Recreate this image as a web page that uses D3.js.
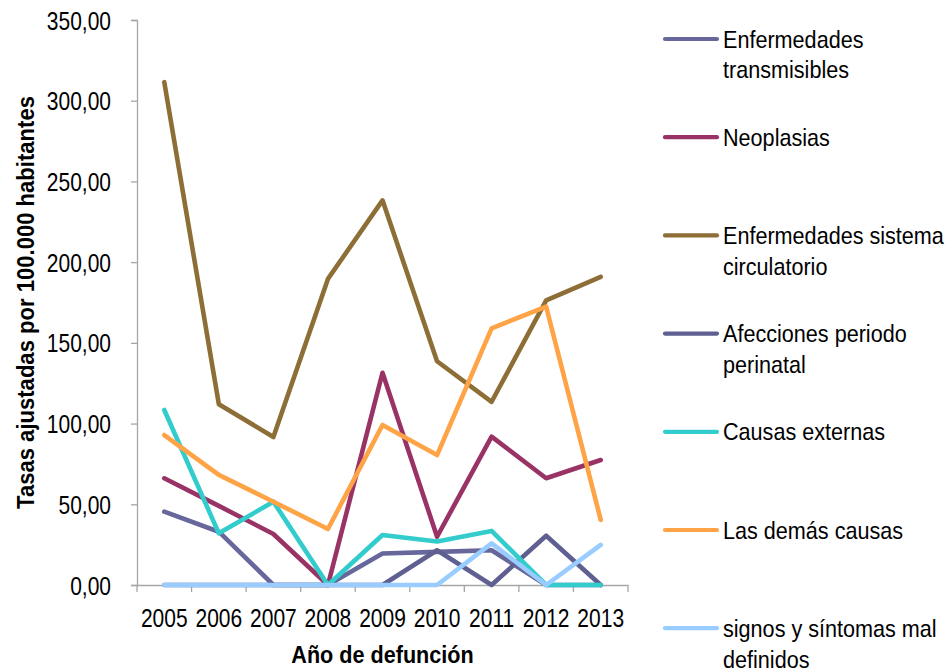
<!DOCTYPE html>
<html>
<head>
<meta charset="utf-8">
<script src="https://cdn.jsdelivr.net/npm/d3@7"></script>
<style>
  html, body { margin: 0; padding: 0; background: #fff; }
  svg text { font-family: "Liberation Sans", Arial, sans-serif; fill: #000; }
</style>
</head>
<body>
<svg id="chart" width="949" height="669"></svg>
<script>
// Years of death (x categories)
const years = ["2005", "2006", "2007", "2008", "2009", "2010", "2011", "2012", "2013"];

// Adjusted rates per 100.000 inhabitants, one array per cause group
const transmisibles = [45.4, 33.0, 0, 0, 19.5, 20.5, 21.5, 0, 0];
const neoplasias = [66.1, 49.0, 31.6, 0, 131.5, 29.9, 91.9, 66.1, 77.4];
const circulatorio = [311.5, 112.0, 91.7, 189.6, 238.3, 138.6, 113.5, 176.3, 190.9];
const perinatal = [0, 0, 0, 0, 0, 21.5, 0, 30.5, 0];
const externas = [108.4, 32.0, 51.6, 0, 31.0, 26.9, 33.5, 0, 0];
const demas = [92.9, 68.2, 51.6, 34.7, 99.1, 80.5, 159.0, 172.4, 40.3];
const signos = [0, 0, 0, 0, 0, 0, 25.8, 0, 24.8];

// Y axis tick values
const yTicks = [0, 50, 100, 150, 200, 250, 300, 350];

const seriesNames = [
  ["Enfermedades", "transmisibles"],
  ["Neoplasias"],
  ["Enfermedades sistema", "circulatorio"],
  ["Afecciones periodo", "perinatal"],
  ["Causas externas"],
  ["Las demás causas"],
  ["signos y síntomas mal", "definidos"]
];
const seriesValues = [transmisibles, neoplasias, circulatorio, perinatal, externas, demas, signos];
const seriesColors = ["#67679c", "#993366", "#8e6e37", "#5f5f92", "#33cccc", "#ffa347", "#99ccff"];

const svg = d3.select("#chart");
const margin = { left: 137, right: 321, top: 20, bottom: 84 };
const W = 949, H = 669;

const x = d3.scaleBand().domain(years).range([margin.left, W - margin.right]);
const y = d3.scaleLinear().domain([0, 350]).range([H - margin.bottom, margin.top]);

const fmt = v => d3.format(".2f")(v).replace(".", ",");
const axisColor = "#a6a6a6";

// Narrow the glyphs horizontally around each text's own anchor point
function condense(sel, sx) {
  sel.each(function () {
    const t = d3.select(this);
    const x0 = +t.attr("x") || 0, y0 = +t.attr("y") || 0;
    t.attr("x", 0).attr("y", 0)
      .attr("transform", `translate(${x0},${y0}) scale(${sx},1)`);
  });
}

// Y axis
const gy = svg.append("g")
  .attr("transform", `translate(${margin.left},0)`)
  .call(d3.axisLeft(y).tickValues(yTicks).tickFormat(fmt).tickSize(6).tickPadding(20));
gy.selectAll("path, line").attr("stroke", axisColor).attr("stroke-width", 1.3);
gy.selectAll("text").attr("font-size", 25).attr("fill", "#000").attr("dy", "0.36em");
condense(gy.selectAll("text"), 0.84);

// X axis with ticks on category boundaries
const gx = svg.append("g")
  .attr("transform", `translate(0,${y(0)})`)
  .call(d3.axisBottom(x).tickSize(0).tickPadding(24));
gx.select("path").attr("stroke", axisColor).attr("stroke-width", 1.3);
gx.selectAll("text").attr("font-size", 25).attr("fill", "#000").attr("dy", "0.71em");
condense(gx.selectAll("text"), 0.84);
const edges = years.map(d => x(d)).concat([x(years[years.length - 1]) + x.bandwidth()]);
gx.selectAll("line.edge").data(edges).enter().append("line")
  .attr("class", "edge")
  .attr("x1", d => d).attr("x2", d => d)
  .attr("y1", 0).attr("y2", 7)
  .attr("stroke", axisColor).attr("stroke-width", 1.3);

// Axis titles
svg.append("text")
  .attr("transform", `translate(34,${(y(0) + y(350)) / 2}) rotate(-90) scale(0.92,1)`)
  .attr("text-anchor", "middle")
  .attr("font-size", 24).attr("font-weight", "bold")
  .text("Tasas ajustadas por 100.000 habitantes");

svg.append("text")
  .attr("transform", `translate(${(margin.left + W - margin.right) / 2},663) scale(0.9,1)`)
  .attr("text-anchor", "middle")
  .attr("font-size", 24).attr("font-weight", "bold")
  .text("Año de defunción");

// Series lines
const line = d3.line()
  .x((d, i) => x(years[i]) + x.bandwidth() / 2)
  .y(d => y(d));

svg.append("g").selectAll("path")
  .data(seriesValues)
  .enter().append("path")
  .attr("d", d => line(d))
  .attr("fill", "none")
  .attr("stroke", (d, i) => seriesColors[i])
  .attr("stroke-width", 4.6)
  .attr("stroke-linejoin", "round")
  .attr("stroke-linecap", "round");

// Legend
const legend = svg.append("g");
const legendTop = 39, legendStep = 98.2;
seriesNames.forEach((lines, i) => {
  const ly = legendTop + i * legendStep;
  legend.append("line")
    .attr("x1", 665).attr("x2", 717)
    .attr("y1", ly).attr("y2", ly)
    .attr("stroke", seriesColors[i])
    .attr("stroke-width", 4.2)
    .attr("stroke-linecap", "round");
  const t = legend.append("text")
    .attr("transform", `translate(723,${ly + 8.5}) scale(0.9,1)`)
    .attr("font-size", 24);
  lines.forEach((s, k) => {
    t.append("tspan").attr("x", 0).attr("dy", k === 0 ? 0 : 31).text(s);
  });
});
</script>
</body>
</html>
